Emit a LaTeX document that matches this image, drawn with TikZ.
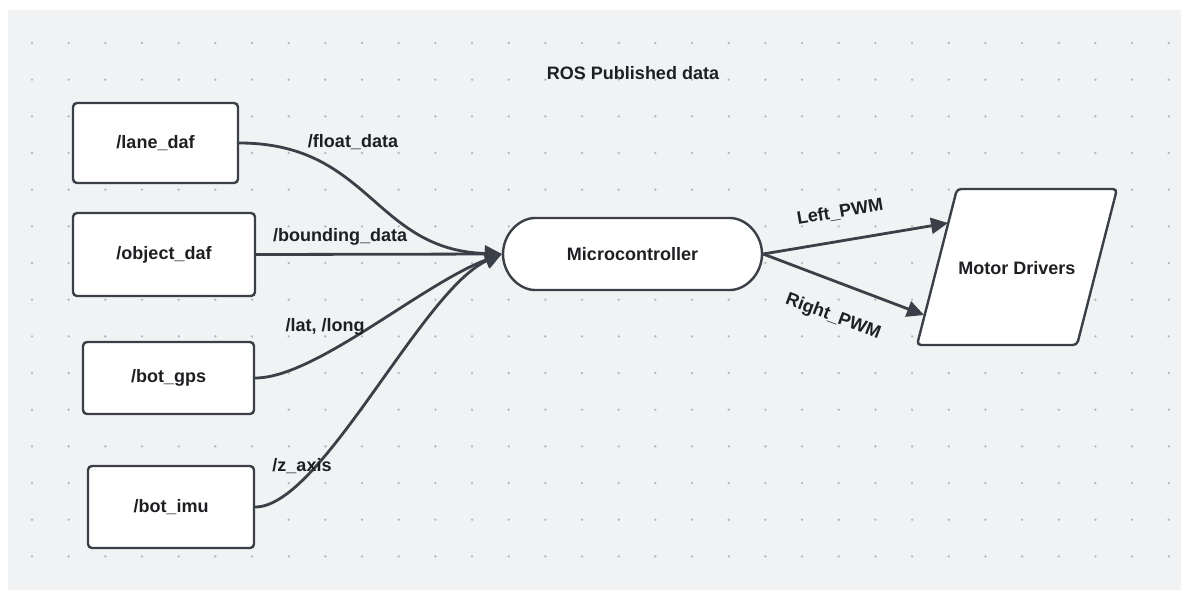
\documentclass[tikz,border=0pt]{standalone}
\usepackage{fontspec}
\setmainfont{Liberation Sans}
\usetikzlibrary{arrows.meta,shapes.misc}
\definecolor{bgc}{HTML}{F1F2F4}
\definecolor{dotc}{HTML}{B4B7BD}
\definecolor{linec}{HTML}{3B3F48}
\definecolor{textc}{HTML}{1E1F22}
\tikzset{
  boxnode/.style={draw=linec, line width=2.4pt, fill=white, rounded corners=4pt,
    text=textc, font=\fontsize{18}{21}\selectfont\bfseries, inner sep=0pt},
  lbl/.style={text=textc, font=\fontsize{18}{21}\selectfont\bfseries, inner sep=0pt},
  conn/.style={draw=linec, line width=2.8pt, -{Triangle[length=17pt,width=16pt]}},
}
\begin{document}
\begin{tikzpicture}[x=1pt,y=-1pt]
\useasboundingbox (0,0) rectangle (1181,590);
\fill[bgc] (8,10) rectangle (1181,590);
\foreach \i in {0,...,31} {
  \foreach \j in {0,...,14} {
    \fill[dotc] ({32+36.67*\i},{43+36.67*\j}) circle (1.3pt);
  }
}
% title
\node[lbl] (title) at (633,73) {ROS Published data};
% source boxes
\node[boxnode, minimum width=165pt, minimum height=80pt] (lane) at (155.5,143) {/lane\_daf};
\node[boxnode, minimum width=182pt, minimum height=83pt] (object) at (164,254.5) {/object\_daf};
\node[boxnode, minimum width=171pt, minimum height=72pt] (gps) at (168.5,378) {/bot\_gps};
\node[boxnode, minimum width=166pt, minimum height=82pt] (imu) at (171,507) {/bot\_imu};
% microcontroller
\node[boxnode, rounded rectangle, minimum width=259pt, minimum height=72pt] (micro) at (632.5,254) {Microcontroller};
% motor drivers parallelogram
\filldraw[draw=linec, fill=white, line width=2.4pt, rounded corners=4pt]
  (957,189) -- (1117,189) -- (1077,345) -- (917,345) -- cycle;
\node[lbl] (motor) at (1017,268) {Motor Drivers};
\coordinate (motorL) at (948,223);
\coordinate (motorR) at (924,315);
% connectors in
\draw[conn] (lane.east) .. controls +(131,0) and +(-128,-4) .. (micro.west);
\draw[conn] (object.east) -- (micro.west);
\draw[conn] (gps.east) .. controls +(60,0) and +(-80,30) .. (micro.west);
\draw[conn] (imu.east) .. controls +(66,0) and +(-80,36) .. (micro.west);
% connectors out
\draw[conn] (micro.east) -- (motorL);
\draw[conn] (micro.east) -- (motorR);
% labels
\node[lbl] (l1) at (353,142) {/float\_data};
\node[lbl] (l2) at (340,237) {/bounding\_data};
\node[lbl] (l3) at (325,327) {/lat, /long};
\node[lbl] (l4) at (302,466) {/z\_axis};
\node[lbl, rotate=9.5] (l5) at (840,212) {Left\_PWM};
\node[lbl, rotate=-20.7] (l6) at (833,317) {Right\_PWM};
\end{tikzpicture}
\end{document}
